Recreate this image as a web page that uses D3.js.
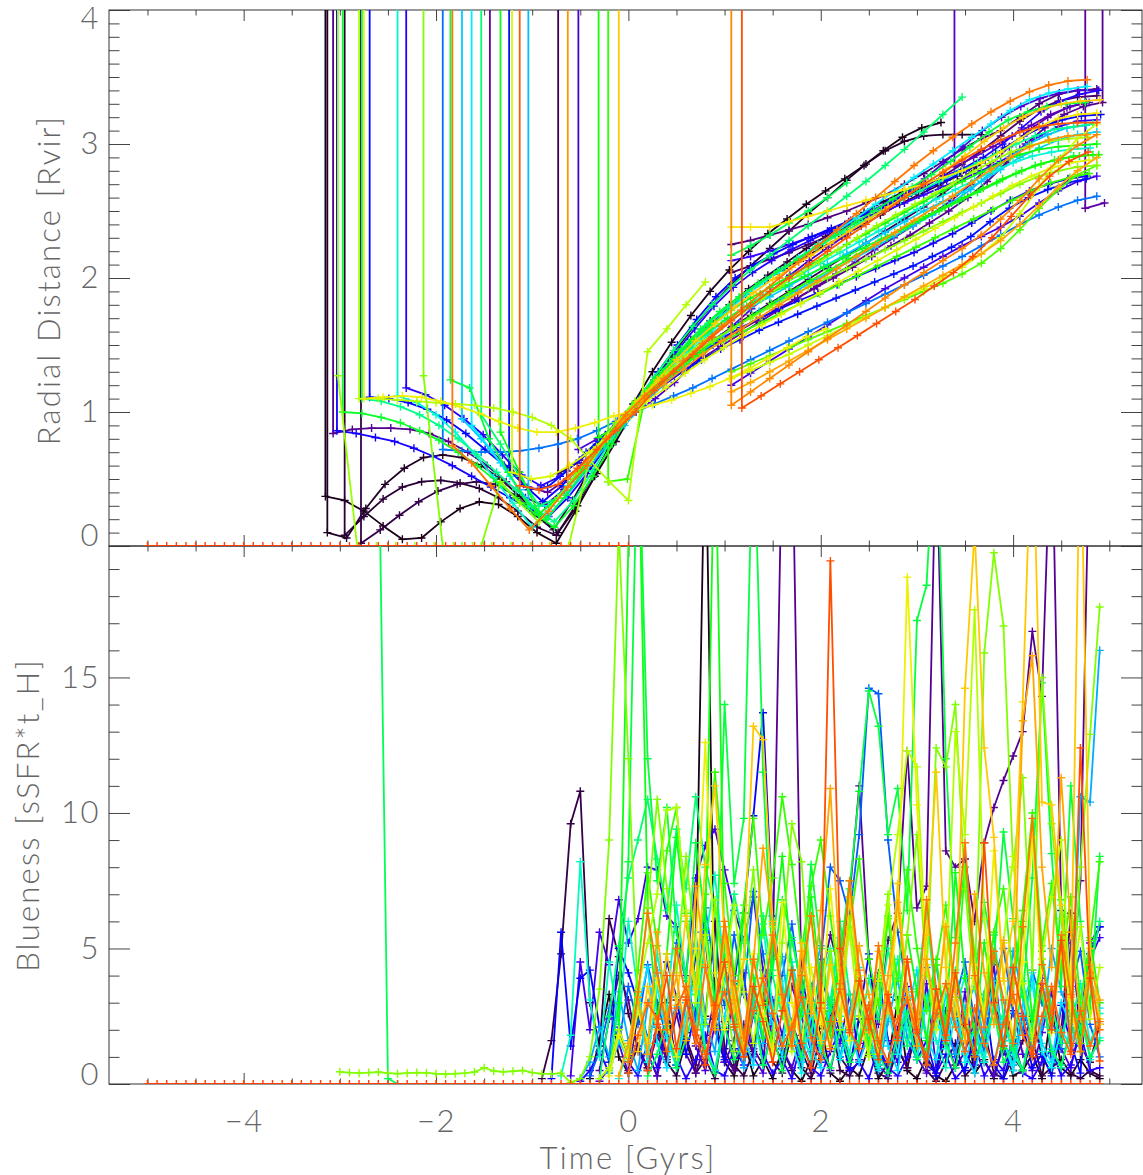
<!DOCTYPE html>
<html>
<head>
<meta charset="utf-8">
<script src="https://cdn.jsdelivr.net/npm/d3@7"></script>
<style>
  html, body { margin: 0; padding: 0; background: #fff; }
  svg text { font-family: Lato, "Open Sans", "DejaVu Sans", sans-serif; font-weight: 300; fill: #666; }
  .axes text { font-size: 31px; letter-spacing: 1.5px; }
  .axes line { stroke: #444; stroke-width: 1; }
  .title { font-size: 31px; letter-spacing: 2.2px; }
</style>
</head>
<body>
<svg id="chart" width="1143" height="1175"></svg>
<script>
// ---- tick labels ----
const TIME_TICKS = [-4, -2, 0, 2, 4];
const RAD_TICKS = [0, 1, 2, 3, 4];
const BLUE_TICKS = [0, 5, 10, 15];

// sampling steps of the two panels (Gyr)
const RAD_STEP = 0.2;
const BLUE_STEP = 0.1;

// ---- radial distance tracks, one array per galaxy ----
const rad00 = [0.37,0.34,0.26,0.15,0.05,0.06,0.18,0.28,0.33,0.31,0.22,0.10,0.02,0.26,0.52,0.82,1.06,1.30,1.52,1.72,1.90,2.06,2.20,2.33,2.44,2.55,2.65,2.74,2.84,2.95,3.05,3.12,3.16];
const rad01 = [0.10,0.06,0.28,0.46,0.58,0.66,0.68,0.66,0.60,0.50,0.37,0.22,0.10,0.30,0.54,0.78,1.03,1.24,1.44,1.63,1.80,1.95,2.09,2.22,2.35,2.48,2.60,2.73,2.85,2.95,3.02,3.06,3.07,3.07,3.07];
const rad02 = [0.08,0.22,0.35,0.44,0.48,0.49,0.47,0.43,0.36,0.26,0.14,0.08,0.30,0.55,0.79,1.02,1.20,1.38,1.54,1.68,1.80,1.92,2.02,2.12,2.22,2.31,2.40,2.49,2.57,2.64,2.70,2.74];
const rad03 = [0.02,0.12,0.23,0.33,0.41,0.46,0.48,0.46,0.38,0.24,0.12,0.34,0.60,0.82,1.01,1.18,1.34,1.49,1.63,1.76,1.88,1.98,2.07,2.15,2.23,2.31,2.39,2.47,2.55,2.62,2.69,2.76,2.84,2.93];
const rad04 = [0.54,0.62,0.76,0.90,1.05,1.18,1.30,1.42,1.53,1.63,1.72,1.81,1.90,1.99,2.08,2.17,2.26,2.35,2.44,2.53,2.63,2.74,2.86];
const rad05 = [2.04,2.09,2.14,2.19,2.25,2.31,2.38,2.45,2.52,2.60,2.68,2.76,2.85,2.95,3.06,3.17,3.26,3.32,3.35,3.36];
const rad06 = [2.25,2.28,2.32,2.36,2.40,2.45,2.50,2.56,2.62,2.70,2.78,2.87,2.96,3.04,3.10,3.20,3.30,3.37,3.40,3.41];
const rad07 = [0.84,0.87,0.88,0.88,0.87,0.84,0.78,0.70,0.60,0.48,0.36,0.30,0.42,0.58,0.76,0.95,1.10,1.22,1.33,1.43,1.52,1.60,1.68,1.76,1.84,1.92,2.00,2.08,2.16,2.24,2.32,2.41,2.50,2.60,2.72,2.86,3.00,3.12,3.22,3.28,3.31];
const rad08 = [0.72,0.58,0.44,0.40,0.50,0.64,0.80,0.97,1.10,1.20,1.30,1.40,1.49,1.58,1.67,1.76,1.85,1.94,2.03,2.12,2.21,2.30,2.39,2.48,2.58,2.70,2.84,2.98,3.10,3.20,3.27,3.31];
const rad08b = [2.52,2.56];
const rad09 = [2.83,2.90,2.98,3.06,3.14,3.22,3.28,3.31];
const rad10 = [0.72,0.80,0.90,1.00,1.10,1.22,1.36,1.50,1.64,1.77,1.90,2.02,2.13,2.23,2.33,2.43,2.53,2.63,2.74,2.86,2.98,3.10,3.20,3.28,3.34,3.38,3.40,3.40];
const rad11 = [1.20,1.29,1.38,1.47,1.56,1.65,1.74,1.83,1.92,2.00,2.08,2.16,2.24,2.31,2.38,2.46,2.56,2.65,2.72,2.76];
const rad12 = [2.13,2.16,2.20,2.25,2.30,2.35,2.40,2.45,2.50,2.56,2.62,2.68,2.74,2.80,2.87,2.96,3.06,3.13,3.17,3.18];
const rad13 = [1.18,1.13,1.05,0.95,0.83,0.68,0.53,0.45,0.52,0.64,0.78,0.93,1.08,1.26,1.44,1.62,1.79,1.93,2.04,2.13,2.21,2.28,2.35,2.42,2.49,2.56,2.63,2.70,2.76,2.82,2.90,3.00,3.12,3.24,3.32,3.37,3.40];
const rad14 = [0.86,0.84,0.81,0.78,0.73,0.67,0.60,0.52,0.44,0.36,0.28,0.22,0.36,0.54,0.74,0.95,1.12,1.24,1.36,1.46,1.55,1.63,1.70,1.77,1.83,1.89,1.95,2.01,2.07,2.13,2.19,2.26,2.33,2.41,2.50,2.58,2.65,2.70,2.74,2.76];
const rad15 = [1.11,1.10,1.07,1.02,0.94,0.84,0.72,0.60,0.46,0.33,0.45,0.60,0.76,0.93,1.10,1.30,1.50,1.69,1.86,2.00,2.10,2.18,2.25,2.31,2.37,2.43,2.49,2.55,2.61,2.67,2.73,2.80,2.88,2.97,3.06,3.13,3.18,3.21,3.22];
const rad16 = [0.60,0.42,0.44,0.56,0.70,0.83,0.97,1.10,1.20,1.30,1.39,1.47,1.54,1.61,1.67,1.73,1.79,1.85,1.91,1.97,2.03,2.09,2.16,2.23,2.31,2.42,2.52,2.60,2.66,2.71,2.74];
const rad20 = [0.72,0.71,0.70,0.70,0.71,0.73,0.76,0.80,0.86,0.93,1.00,1.06,1.12,1.18,1.25,1.32,1.39,1.46,1.53,1.60,1.67,1.74,1.81,1.88,1.95,2.02,2.09,2.16,2.24,2.32,2.40,2.47,2.53,2.58,2.61];
const rad24 = [0.30,0.22,0.38,0.56,0.74,0.90,1.06,1.20,1.33,1.45,1.56,1.66,1.75,1.83,1.91,1.99,2.07,2.15,2.23,2.31,2.39,2.47,2.56,2.66,2.78,2.90,3.00,3.07,3.12,3.14];
const rad25 = [0.95,0.80,0.62,0.42,0.24,0.36,0.52,0.70,0.88,1.05,1.20,1.34,1.47,1.59,1.69,1.78,1.86,1.94,2.02,2.10,2.18,2.26,2.34,2.42,2.50,2.57,2.64,2.72,2.81,2.90,2.97,3.03,3.07,3.09];
const rad27 = [0.90,0.72,0.52,0.30,0.30,0.45,0.62,0.80,0.98,1.15,1.30,1.45,1.59,1.72,1.84,1.95,2.05,2.15,2.25,2.35,2.45,2.55,2.65,2.75,2.85,2.95,3.05,3.15,3.25,3.33,3.38,3.41,3.43];
const rad29 = [1.12,1.07,0.98,0.85,0.69,0.51,0.32,0.14,0.30,0.48,0.66,0.83,1.00,1.16,1.31,1.45,1.57,1.68,1.78,1.87,1.95,2.03,2.11,2.19,2.27,2.35,2.43,2.51,2.59,2.66,2.73,2.80,2.86,2.91,2.94,2.96,2.97];
const rad32 = [1.10,1.08,1.04,0.98,0.90,0.80,0.68,0.55,0.42,0.28,0.18,0.34,0.56,0.80,1.02,1.20,1.37,1.52,1.66,1.78,1.89,1.99,2.08,2.17,2.26,2.34,2.42,2.50,2.58,2.65,2.72,2.79,2.86,2.93,3.00,3.06,3.11,3.13,3.15];
const rad33 = [0.98,0.76,0.52,0.30,0.36,0.54,0.72,0.89,1.06,1.26,1.46,1.64,1.80,1.94,2.06,2.17,2.28,2.39,2.50,2.61,2.72,2.84,2.96,3.09,3.22,3.35];
const rad34 = [2.17,2.24,2.32,2.41,2.50,2.60,2.71];
const rad35 = [1.24,1.18,0.80,0.55,0.32,0.20,0.38,0.57,0.76,0.94,1.12,1.30,1.47,1.62,1.75,1.86,1.96,2.05,2.14,2.23,2.32,2.41,2.50,2.59,2.68,2.77,2.87,2.98,3.09,3.18,3.24,3.28,3.30,3.31];
const rad36 = [1.00,0.99,0.96,0.92,0.86,0.79,0.70,0.60,0.48,0.36,0.24,0.14,0.30,0.52,0.76,1.00,1.18,1.34,1.48,1.60,1.70,1.79,1.87,1.94,2.01,2.08,2.15,2.22,2.29,2.36,2.43,2.50,2.57,2.64,2.71,2.78,2.84,2.88,2.91,2.92];
const rad37 = [0.85,0.55,0.24,0.36,0.54,0.72,0.89,1.07,1.24,1.40,1.54,1.66,1.76,1.85,1.93,2.01,2.09,2.17,2.25,2.33,2.41,2.49,2.57,2.65,2.72,2.79,2.86,2.92,2.96,2.98,2.99,3.00];
const rad38 = [0.81,0.90,1.06,1.18,1.30,1.42,1.53,1.63,1.72,1.81,1.90,1.98,2.06,2.14,2.22,2.30,2.38,2.46,2.53,2.60,2.67,2.74,2.80,2.85,2.89,2.91,2.92];
const rad39 = [0.48,0.50,1.16,1.26,1.36,1.45,1.53,1.60,1.67,1.74,1.81,1.88,1.95,2.02,2.09,2.16,2.23,2.30,2.37,2.44,2.51,2.58,2.65,2.71,2.75,2.78];
const rad40 = [1.30,1.36,1.42,1.48,1.54,1.60,1.66,1.72,1.78,1.84,1.90,1.96,2.03,2.11,2.22,2.36,2.52,2.66,2.77,2.84];
const rad42 = [1.27,0,0,0,0.48,0.32,0.18,0.36,0.55,0.74,0.92,1.08,1.20,1.32,1.43,1.53,1.62,1.70,1.78,1.86,1.93,2.00,2.07,2.14,2.21,2.28,2.35,2.42,2.49,2.56,2.63,2.70,2.76,2.80,2.83,2.84];
const rad43 = [1.27,0,0,0,0,0,0,0,0,0,0,0,0,0.60,0.80,0.98,1.14,1.28,1.41,1.53,1.64,1.74,1.84,1.94,2.03,2.12,2.21,2.30,2.39,2.47,2.55,2.63,2.71,2.79,2.87,2.94,2.99,3.02,3.04,3.05];
const rad44 = [1.10,1.10,1.09,1.08,1.07,1.06,1.05,1.03,1.00,0.96,0.90,0.80,0.64,0.48,0.34,1.45,1.62,1.80,1.97];
const rad45 = [1.25,1.31,1.37,1.43,1.50,1.57,1.64,1.71,1.78,1.85,1.92,2.00,2.08,2.18,2.30,2.48,2.68,2.88,3.04,3.15];
const rad46 = [0.55,0.50,0.52,0.60,0.70,0.82,0.95,1.08,1.18,1.29,1.39,1.48,1.57,1.65,1.73,1.81,1.89,1.97,2.05,2.13,2.21,2.29,2.37,2.45,2.53,2.61,2.69,2.76,2.82,2.86,2.88];
const rad47 = [1.10,1.11,1.12,1.11,1.08,1.04,0.99,0.93,0.88,0.85,0.85,0.88,0.92,0.97,1.01,1.05,1.09,1.14,1.19,1.25,1.32,1.40,1.48,1.56,1.62];
const rad48 = [2.38,2.38,2.38,2.42,2.46,2.50,2.54,2.58,2.62,2.66,2.70,2.75,2.80,2.86,2.94,3.04,3.13,3.19,3.22,3.23];
const rad50 = [0.93,1.08,1.24,1.39,1.53,1.66,1.78,1.89,1.99,2.08,2.17,2.26,2.35,2.44,2.53,2.62,2.71,2.81,2.91,3.02,3.12,3.20,3.26,3.30,3.32,3.33];
const rad52 = [1.15,1.22,1.30,1.38,1.46,1.54,1.62,1.70,1.78,1.86,1.94,2.02,2.10,2.18,2.28,2.40,2.54,2.68,2.80,2.90];
const rad53 = [0.50,0.64,0.80,0.95,1.10,1.21,1.32,1.43,1.53,1.62,1.71,1.80,1.89,1.98,2.07,2.16,2.25,2.34,2.43,2.52,2.61,2.71,2.81,2.90,2.98,3.03,3.06,3.07];
const rad54 = [1.05,1.15,1.25,1.35,1.45,1.55,1.65,1.75,1.85,1.95,2.04,2.13,2.22,2.32,2.44,2.58,2.74,2.88,2.99,3.07];
const rad55 = [0.75,0.62,0.45,0.28,0.12,0.26,0.44,0.60,0.80,0.98,1.12,1.25,1.38,1.51,1.64,1.76,1.88,2.00,2.12,2.24,2.36,2.48,2.60,2.72,2.84,2.95,3.05,3.15,3.24,3.32,3.39,3.44,3.47,3.48];
const rad57 = [0.45,0.42,0.46,0.58,0.72,0.86,1.00,1.16,1.30,1.43,1.56,1.68,1.79,1.90,2.00,2.10,2.20,2.30,2.40,2.50,2.60,2.70,2.79,2.88,2.96,3.03,3.09,3.13,3.15,3.16,3.16];
const rad58 = [1.03,1.12,1.21,1.30,1.39,1.48,1.57,1.66,1.75,1.84,1.94,2.04,2.16,2.30,2.46,2.62,2.76,2.87,2.94];

// ---- blueness series, one array per galaxy ----
const bl42 = [0.45,0.42,0.40,0.42,0.44,0.40,0.38,0.40,0.42,0.41,0.38,0.36,0.38,0.40,0.44,0.60,0.48,0.45,0.47,0.50,0.42,0.38,0.37,0.40,0.05,
  0.2,1.0,3.5,9.0,20.5,12.0,3.0,6.5,10.5,7.2,4.1,8.4,5.0,2.2,6.8,3.4,1.2,4.6,7.9,3.0,1.4,5.2,9.6,8.2,3.3,1.5,4.9,2.0,6.1,3.2,1.1,3.8,7.0,2.4,5.5,9.2,4.0,12.4,11.7,14.0,7.2,3.5,15.9,19.6,16.9,8.0,11.3,4.2,15.0,9.6,6.1,2.3,8.0,12.9,17.6];
const bl34v = [25, 0.2, 0.0];
const bl00 = [0.2,1.6,3.3,1.0,0.4,2.6,1.1,0.3,3.0,0.7,1.9,4.8,25,2.4,0.8,0.3,1.7,0.3,0.9,0.2,1.3,0.5,0.1,0.9,2.2,0.4,0.1,0.6,0.3,1.4,0.2,0.8,3.1,0.5,0.2,1.0,0.3,0.1,0.7,2.4,0.4,0.9,0.2,1.6,0.3,0.5,1.1,0.2,2.8,0.6,0.3,0.9,0.4,0.2];
const bl03 = [0.2,1.6,4.8,9.6,10.8,3.0,1.4,6.1,4.7,2.6,1.3,0.5,2.1,0.8,0.3,1.6,0.4,0.9,0.2,2.3,0.7,0.3,1.2,3.5,0.8,0.4,1.9,0.6,0.2,1.1,2.7,0.5,0.3,0.9,1.8,0.4,0.2,1.3,0.6,2.4,0.5,0.1,0.8,1.5,0.3,0.7,2.0,0.4,0.2,1.0,0.5,1.7,0.3,0.6,0.9,0.4,0.2,0.5,0.3];
const bl04 = [0.5,1.4,0.6,2.2,1.0,3.1,1.7,0.7,2.5,6.0,1.3,0.5,2.0,1.1,3.4,1.6,0.8,2.3,1.2,0.4,1.8,2.9,1.0,0.5,2.4,1.5,0.9,3.2,1.3,0.6,2.1,1.0,0.4,1.7,2.8,1.1,0.6,2.0,3.5,1.2,0.7,1.6,2.5,1.0,0.4,1.9,6.3,1.4,0.8,2.2];
const bl07 = [0.5,2.4,4.0,3.1,1.2,0.6,1.8,0.9,2.6,1.1,0.4,1.5,3.2,1.0,0.5,2.2,1.3,0.7,4.6,24,25,3.5,2.0,3.8,5.5,4.1,6.9,11.0,4.6,2.2,5.3,6.3,12.3,6.5,7.3,24,8.6,8.0,8.3,6.0,8.9,10.2,11.2,12.1,13.0,16.7,14.3,25,6.4,3.2,7.5,25,20.5];
const bl10 = [0.1,0.6,1.5,0.4,2.8,1.1,0.3,1.9,0.7,3.2,1.4,0.5,2.2,0.8,1.6,4.1,1.0,0.4,2.5,1.3,0.6,1.8,3.6,1.2,0.5,2.1,0.9,1.5,2.9,0.7,0.3,1.6,2.4,1.0,0.4,3.0,1.7,0.6,1.2,2.3,0.8,0.3,1.4,2.7,1.1,0.5,1.9,3.4,1.3,0.6,2.2,5.2,5.8];
const bl11 = [0.3,4.5,2.0,5.6,4.4,6.8,5.2,6.1,8.0,7.9,6.2,5.8,4.0,7.6,8.8,9.4,7.9,6.4,5.3,6.9,4.2,3.1,1.8,3.6,2.5,1.2,4.0,2.8,1.5,3.3,0.9,2.2,4.1,1.6,0.8,2.9,1.4,3.7,0.6,2.0,1.1,3.4,0.7,1.9,4.4,1.2,0.5,2.6,1.8,3.9,0.8,1.5,5.2,2.3,4.6,5.4];
const bl13 = [0.1,0.5,1.2,0.4,2.1,0.8,0.3,1.5,0.6,2.4,1.0,0.2,0.9,1.8,0.5,0.3,1.3,0.7,2.6,1.1,0.4,0.9,0.2,1.6,0.6,0.3,1.2,2.0,0.5,0.8,0.2,1.4,0.6,0.3,1.0,2.2,0.7,0.4,1.1,0.2,0.6,1.5,0.3,0.9,0.5,1.7,0.4,0.2,0.8,1.3,0.3,0.7,1.9,0.5,0.6];
const bl15 = [0.2,5.6,1.4,3.9,4.2,2.1,0.8,5.0,4.1,3.0,1.7,2.6,4.5,3.2,1.1,2.8,5.3,2.0,0.9,3.7,6.3,9.9,13.7,6.2,3.4,1.5,4.0,2.3,0.8,3.1,1.9,0.6,2.5,4.8,1.3,0.4,2.0,3.6,0.9,1.6,0.3,2.7,1.0,0.5,1.8,3.3,0.7,0.2,1.4,2.2,0.6,1.1,0.3,2.9,1.5,0.4,4.8,5.8];
const bl19 = [0.3,1.2,2.8,1.5,3.6,2.2,4.4,3.0,1.7,5.2,3.8,2.4,6.5,4.1,2.9,5.5,3.3,7.1,4.8,2.6,4.0,5.9,3.2,1.8,4.6,8.0,7.5,6.2,9.2,14.6,14.4,9.0,5.6,3.4,2.1,4.3,2.7,1.5,3.1,4.5,2.3,1.2,3.8,5.0,2.6,1.9,4.2,3.0,2.4,1.3,3.6,4.9,2.2,1.0];
const bl23 = [0.2,0.8,2.1,1.0,3.4,1.6,0.5,2.9,4.2,1.8,0.7,3.0,5.6,2.4,1.2,4.1,2.0,0.6,3.3,1.5,2.6,4.7,1.9,0.8,3.5,5.1,2.2,1.0,2.7,4.0,1.4,0.5,2.3,3.9,1.7,0.9,3.1,4.4,2.0,1.1,2.8,3.6,1.5,0.7,2.4,4.9,3.2,1.3,2.1,5.0,3.4,2.5,10.6,10.4,16.0];
const bl26 = [0.4,1.6,0.9,2.8,4.3,1.5,0.6,3.2,2.0,5.1,1.2,0.5,2.5,4.0,1.8,0.7,3.6,2.2,1.0,4.5,2.9,1.3,0.6,3.0,5.4,2.1,0.8,1.9,3.7,1.4,0.5,2.6,4.2,1.7,0.9,3.3,2.4,1.1,0.4,2.0,3.8,1.6,0.7,2.9,4.1,1.5,0.8,3.0,2.2,1.2,3.9,2.8];
const bl28 = [0.2,1.4,2.9,0.8,3.6,1.7,0.6,2.5,4.0,1.3,0.5,2.2,3.4,1.0,2.7,0.7,1.9,3.8,1.5,0.4,2.6,1.2,3.1,0.9,2.0,4.3,1.6,0.6,2.8,1.1,3.5,1.8,0.7,2.4,1.3,3.2,0.8,2.1,1.0,2.9,1.6,0.5,2.3,3.7,1.2,0.6,2.0,1.4,3.0,0.9,1.7];
const bl30 = [0.3,1.8,8.2,3.1,1.0,4.5,2.2,6.0,3.4,1.5,4.8,2.7,6.6,3.9,2.0,5.2,7.7,4.1,2.3,1.2,3.5,5.9,2.8,1.4,4.2,2.0,0.9,3.6,5.0,2.5,1.1,3.8,1.9,0.7,2.9,4.6,2.1,1.0,3.2,1.6,0.6,2.7,4.0,1.8,0.8,3.0,2.3,1.1,0.5,2.4,3.5,1.3,0.6,2.2,3.7,1.5,2.6];
const bl33 = [0.2,2.5,5.1,7.6,9.0,10.5,8.3,6.4,9.4,7.2,10.6,8.0,6.5,4.3,7.0,5.2,3.1,6.2,4.0,2.5,5.4,3.6,1.8,4.4,2.9,6.0,3.3,1.6,3.9,2.4,5.0,2.8,1.4,3.5,6.4,3.0,1.7,4.2,2.6,1.1,3.3,5.5,2.5,1.3,3.8,2.2,4.6,2.9,1.5,3.4,2.0,4.2,6.0];
const bl34 = [0.3,1.1,2.4,0.6,1.7,3.0,1.2,0.4,2.1,0.9,1.5,2.8,0.7,1.9,0.5,2.3,1.0,3.4,1.4,0.6,2.0,0.8,1.6,2.9,1.1,0.4,1.8,2.6,0.9,1.3,3.1,1.5,0.6,2.2,1.0,1.7,2.7,0.8,1.4,0.5,2.0,3.3,1.2,0.7,1.9,2.5,1.0,1.6];
const bl35 = [0.5,3.0,8.2,25,12.0,7.5,10.2,5.6,3.8,8.9,6.0,2.9,14.0,7.4,9.8,25,11.5,4.2,6.8,5.3,3.6,8.1,5.0,2.7,4.8,7.2,10.8,14.5,13.2,9.2,10.9,6.4,17.1,18.4,25,12.0,5.4,8.0,3.9,6.7,4.5,9.3,6.1,3.2,7.6,14.8,8.5,3.6,11.0,6.0,2.8,8.4];
const bl37 = [2.0,20.0,25,6.5,2.4,4.8,9.1,6.0,3.3,5.7,25,4.4,2.1,6.3,3.9,1.7,5.0,8.4,4.2,2.5,6.9,3.6,1.8,4.7,7.5,3.1,1.4,4.0,6.2,2.8,5.5,3.4,1.6,4.6,2.2,7.8,3.9,1.9,5.2,2.9,1.3,3.7,6.0,2.4,4.9,2.0,6.8,3.5,1.5,5.4,3.0];
const bl39 = [1.0,4.2,7.8,5.1,8.6,10.2,6.3,3.7,7.0,11.5,7.4,4.0,6.6,9.8,5.5,7.6,10.6,8.1,4.9,7.3,9.0,6.2,3.5,5.8,8.3,4.6,2.9,6.1,3.8,7.9,5.0,2.7,4.4,6.6,3.2,8.0,4.8,2.5,5.6,7.2,3.9,6.4,10.0,5.1,7.4,4.3,6.9,3.0,5.3,8.2];
const bl44 = [0.2,0.6,2.0,1.1,3.5,5.2,7.0,10.1,10.2,6.4,3.0,5.5,2.1,4.2,6.6,3.4,1.5,3.9,5.8,2.7,1.2,4.1,6.2,3.0,1.4,3.3,5.6,2.5,1.0,3.8,6.6,9.2,12.3,11.7,4.4,2.0,3.6,13.0,9.2,17.5,6.1,3.0,5.2,8.4,3.7,1.6,4.6,6.9,9.0,3.1,5.8,2.4,4.3];
const bl47 = [0.3,1.8,0.9,2.7,1.5,3.9,2.2,1.0,3.4,5.0,12.6,4.1,2.0,3.6,1.4,4.8,2.5,1.1,6.7,3.0,1.5,4.3,2.2,7.2,3.5,1.6,4.0,2.4,1.1,3.3,6.1,18.7,10.3,4.6,2.7,5.9,3.1,1.6,4.4,2.5,8.6,3.9,1.7,4.5,9.1,3.6,1.9,5.0,2.8,1.2,3.9,2.2];
const bl50 = [1.2,3.6,2.0,4.8,2.9,6.2,3.5,8.1,11.0,5.4,2.7,4.6,13.2,12.7,6.0,3.3,2.1,5.2,3.0,1.6,4.4,2.3,6.9,3.7,1.9,4.9,2.6,7.4,3.4,2.0,5.5,11.5,4.3,2.5,14.6,20.4,12.4,9.1,3.8,6.0,14.1,25,10.4,10.3,6.6,3.2,25,5.0,2.4];
const bl52 = [0.3,1.5,3.2,1.1,5.6,2.4,4.0,1.6,7.3,4.4,2.0,5.8,3.1,1.2,4.5,8.7,5.9,3.0,1.4,4.9,2.6,6.4,10.9,4.2,2.1,5.1,3.3,1.5,4.0,6.7,3.2,1.4,4.6,2.5,5.8,3.4,1.6,7.0,4.1,2.2,5.3,3.0,13.4,15.8,8.0,4.3,11.3,5.6,2.4,4.4,3.1];
const bl55 = [0.8,3.4,6.3,4.1,2.0,5.0,3.2,1.5,4.3,2.6,6.0,3.8,1.7,4.6,2.9,5.5,3.3,1.4,4.0,6.2,2.8,1.3,3.7,7.5,4.2,2.0,5.1,3.0,1.6,4.5,2.4,6.8,3.5,1.8,5.2,8.9,4.0,2.1,4.9,3.1,1.5,5.8,9.8,4.4,2.6,5.5,3.3,1.2,4.1,2.0];
const bl56 = [0.4,1.8,3.0,2.4,1.2,2.8,3.6,2.0,1.1,2.5,3.4,2.2,1.0,2.7,3.9,2.6,1.4,2.1,3.2,1.7,0.9,2.3,3.5,2.0,1.3,2.9,1.6,0.8,2.4,3.1,1.9,1.0,2.6,3.7,2.1,1.2,2.8,1.5,0.7,2.2,3.3,1.8,1.0,2.5,3.6,1.9,1.1,2.7,1.4,2.3];
const bl58 = [0.5,2.2,4.0,1.3,3.1,1.8,0.7,2.9,4.5,2.1,1.0,3.6,2.3,0.8,2.7,4.2,1.5,0.6,3.0,19.3,5.0,1.9,3.8,2.4,0.9,3.3,1.7,4.6,2.0,0.7,3.5,1.6,4.1,2.2,1.0,8.9,3.0,1.4,4.3,2.5,1.1,3.7,2.0,5.3,1.2,12.4,3.9,0.85];

// times of the zero-valued (pre-infall) samples of the reference galaxy
const ZERO_TIMES = [-5.0,-4.9,-4.8,-4.7,-4.6,-4.5,-4.4,-4.3,-4.2,-4.1,-4.0,-3.9,-3.8,-3.7,-3.6,-3.5,-3.4,-3.3,-3.2,-3.1,
  -3.0,-2.9,-2.8,-2.7,-2.6,-2.5,-2.4,-2.3,-2.2,-2.1,-2.0,-1.9,-1.8,-1.7,-1.6,-1.5,-1.4,-1.3,-1.2,-1.1,
  -1.0,-0.9,-0.8,-0.7,-0.6,-0.5,-0.4,-0.3,-0.2,-0.1,0.0,0.1,0.2,0.3,0.4,0.5,0.6,0.7,0.8,0.9,
  1.0,1.1,1.2,1.3,1.4,1.5,1.6,1.7,1.8,1.9,2.0,2.1,2.2,2.3,2.4,2.5,2.6,2.7,2.8,2.9,
  3.0,3.1,3.2,3.3,3.4,3.5,3.6,3.7,3.8,3.9,4.0,4.1,4.2,4.3,4.4,4.5,4.6,4.7,4.8,4.9];
const ZERO_GAL = 59;

// gal = galaxy index (sets the colour), start = time of first sample
const radialTracks = [
  {gal: 0, start: -3.15, values: rad00, entry: true},
  {gal: 1, start: -3.13, values: rad01, entry: true},
  {gal: 2, start: -2.95, values: rad02, entry: true},
  {gal: 3, start: -2.78, values: rad03, entry: true},
  {gal: 4, start: -0.73, values: rad04, entry: true},
  {gal: 5, start: 1.07, values: rad05},
  {gal: 6, start: 1.07, values: rad06},
  {gal: 7, start: -3.07, values: rad07, entry: true, exit: true},
  {gal: 8, start: -1.44, values: rad08, entry: true},
  {gal: 8, start: 4.75, values: rad08b, entry: true},
  {gal: 9, start: 3.39, values: rad09, entry: true},
  {gal: 10, start: -0.52, values: rad10, entry: true},
  {gal: 11, start: 1.07, values: rad11},
  {gal: 12, start: 1.07, values: rad12},
  {gal: 13, start: -2.31, values: rad13, entry: true},
  {gal: 14, start: -3.03, values: rad14, entry: true},
  {gal: 15, start: -2.69, values: rad15, entry: true},
  {gal: 16, start: -1.24, values: rad16, entry: true},
  {gal: 20, start: -1.93, values: rad20, entry: true},
  {gal: 24, start: -1.04, values: rad24, entry: true},
  {gal: 25, start: -1.73, values: rad25, entry: true},
  {gal: 27, start: -1.63, values: rad27, entry: true},
  {gal: 29, start: -2.40, values: rad29, entry: true},
  {gal: 32, start: -2.77, values: rad32, entry: true},
  {gal: 33, start: -1.53, values: rad33, entry: true},
  {gal: 34, start: 1.07, values: rad34},
  {gal: 35, start: -1.85, values: rad35, entry: true},
  {gal: 36, start: -2.97, values: rad36, entry: true},
  {gal: 37, start: -1.33, values: rad37, entry: true},
  {gal: 38, start: -0.31, values: rad38, entry: true},
  {gal: 39, start: -0.21, values: rad39, entry: true},
  {gal: 40, start: 1.07, values: rad40},
  {gal: 42, start: -2.13, values: rad42, entry: true},
  {gal: 43, start: -3.02, values: rad43, entry: true},
  {gal: 44, start: -2.80, values: rad44, entry: true},
  {gal: 45, start: 1.07, values: rad45},
  {gal: 46, start: -1.21, values: rad46, entry: true},
  {gal: 47, start: -2.75, values: rad47, entry: true},
  {gal: 48, start: 1.07, values: rad48},
  {gal: 50, start: -0.10, values: rad50, entry: true},
  {gal: 52, start: 1.07, values: rad52},
  {gal: 53, start: -0.63, values: rad53, entry: true},
  {gal: 54, start: 1.07, values: rad54, entry: true},
  {gal: 55, start: -1.83, values: rad55, entry: true},
  {gal: 57, start: -1.13, values: rad57, entry: true},
  {gal: 58, start: 1.18, values: rad58, entry: true}
];

const blueSeries = [
  {gal: 0, start: -0.4, values: bl00},
  {gal: 3, start: -0.9, values: bl03},
  {gal: 4, start: 0.0, values: bl04},
  {gal: 7, start: -0.3, values: bl07},
  {gal: 10, start: -0.3, values: bl10},
  {gal: 11, start: -0.6, values: bl11},
  {gal: 13, start: -0.5, values: bl13},
  {gal: 15, start: -0.8, values: bl15},
  {gal: 19, start: -0.4, values: bl19},
  {gal: 23, start: -0.5, values: bl23},
  {gal: 26, start: -0.2, values: bl26},
  {gal: 28, start: -0.1, values: bl28},
  {gal: 30, start: -0.7, values: bl30},
  {gal: 33, start: -0.3, values: bl33},
  {gal: 34, start: -2.6, values: bl34v},
  {gal: 34, start: 0.2, values: bl34},
  {gal: 35, start: -0.2, values: bl35},
  {gal: 37, start: -0.1, values: bl37},
  {gal: 39, start: 0.0, values: bl39},
  {gal: 42, start: -3.0, values: bl42},
  {gal: 44, start: -0.3, values: bl44},
  {gal: 47, start: -0.2, values: bl47},
  {gal: 50, start: 0.1, values: bl50},
  {gal: 52, start: -0.1, values: bl52},
  {gal: 55, start: 0.0, values: bl55},
  {gal: 56, start: 0.0, values: bl56},
  {gal: 58, start: 0.2, values: bl58}
];

// ---- layout ----
const L = 109, R = 1142, T1 = 10, B1 = 546, T2 = 546, B2 = 1084;
const OFF_TOP = 1e3; // sentinel for the samples outside the box

const svg = d3.select('#chart');

const x = d3.scaleLinear().domain([-5.4, 5.34]).range([L, R]);
const yR = d3.scaleLinear().domain([0, 4]).range([B1, T1]);
const yB = d3.scaleLinear().domain([0, 19.85]).range([B2, T2]);

// IDL rainbow-like colour table
const RAMP_POS = [0, 0.07, 0.14, 0.2, 0.26, 0.33, 0.4, 0.46, 0.52, 0.58, 0.64, 0.7, 0.76, 0.8, 0.84, 0.88, 0.93, 1];
const RAMP_COL = ['#1a0018','#3c0058','#6000a8','#3800ff','#0000ff','#0068ff','#00b8ff','#00f0ff','#00ffb0',
                  '#00ff50','#10ff00','#70ff00','#c8ff00','#f0f000','#ffd000','#ffa800','#ff7800','#ff4000'];
const color = d3.scaleLinear().domain(RAMP_POS.map(p => p * 59)).range(RAMP_COL);

function drawAxes(yScale, majors, minors, top, bottom, showX, nudge) {
  const g = svg.append('g').attr('class', 'axes');
  const xMinor = d3.range(-5, 5.01, 0.5).filter(v => !TIME_TICKS.includes(v));

  [[d3.axisBottom, bottom, true], [d3.axisTop, top, false]].forEach(([axis, pos, labelled]) => {
    g.append('g').attr('transform', `translate(0,${pos})`)
      .call(axis(x).tickValues(xMinor).tickSize(-5.5).tickFormat(''));
    g.append('g').attr('transform', `translate(0,${pos})`)
      .call(axis(x).tickValues(TIME_TICKS).tickSize(-11).tickPadding(26)
        .tickFormat(showX && labelled ? d3.format('d') : ''));
  });

  g.append('g').attr('transform', `translate(${L},0)`)
    .call(d3.axisLeft(yScale).tickValues(minors).tickSize(-10.5).tickFormat(''));
  const left = g.append('g').attr('transform', `translate(${L},0)`)
    .call(d3.axisLeft(yScale).tickValues(majors).tickSize(-21).tickPadding(9).tickFormat(d3.format('d')));
  left.selectAll('text').attr('transform', d => `translate(0,${nudge[d] || 0})`);

  g.append('g').attr('transform', `translate(${R},0)`)
    .call(d3.axisRight(yScale).tickValues(minors).tickSize(-10.5).tickFormat(''));
  g.append('g').attr('transform', `translate(${R},0)`)
    .call(d3.axisRight(yScale).tickValues(majors).tickSize(-21).tickFormat(''));

  g.selectAll('.domain').remove();
  g.append('rect').attr('x', L).attr('y', top).attr('width', R - L).attr('height', bottom - top)
    .attr('fill', 'none').attr('stroke', '#333').attr('stroke-width', 1);
}

drawAxes(yR, RAD_TICKS, d3.range(0, 4.001, 0.1).filter(v => Math.abs(v - Math.round(v)) > 1e-6),
         T1, B1, false, {0: -10, 4: 9});
drawAxes(yB, BLUE_TICKS, d3.range(0, 19.5, 1).filter(v => v % 5 !== 0),
         T2, B2, true, {0: -9});

// clip regions
const defs = svg.append('defs');
defs.append('clipPath').attr('id', 'clipTop').append('rect')
  .attr('x', L).attr('y', T1).attr('width', R - L).attr('height', B1 - T1);
defs.append('clipPath').attr('id', 'clipBot').append('rect')
  .attr('x', L).attr('y', T2).attr('width', R - L).attr('height', B2 - T2);

function plusMarks(pts, yScale) {
  return pts.map(p => {
    const px = x(p.t), py = yScale(Math.min(p.v, OFF_TOP));
    return `M${px - 4},${py}h8M${px},${py - 4}v8`;
  }).join('');
}

function drawSeries(layer, pts, yScale, col, extraStart, extraEnd) {
  const path = [];
  if (extraStart) path.push({t: pts[0].t, v: OFF_TOP});
  path.push(...pts);
  if (extraEnd) path.push({t: pts[pts.length - 1].t, v: OFF_TOP});
  const line = d3.line().x(d => x(d.t)).y(d => yScale(Math.min(d.v, 40)));
  layer.append('path').attr('d', line(path))
    .attr('fill', 'none').attr('stroke', col).attr('stroke-width', 1.8).attr('stroke-linejoin', 'round');
  layer.append('path').attr('d', plusMarks(pts, yScale))
    .attr('fill', 'none').attr('stroke', col).attr('stroke-width', 1.4);
}

// ---- top panel: radial distance ----
const topLayer = svg.append('g').attr('clip-path', 'url(#clipTop)');
radialTracks.slice().sort((a, b) => a.gal - b.gal).forEach(tr => {
  const pts = tr.values.map((v, i) => ({t: tr.start + i * RAD_STEP, v}));
  drawSeries(topLayer, pts, yR, color(tr.gal), tr.entry, tr.exit);
});
const zeroTop = ZERO_TIMES.filter(t => t <= 0).map(t => ({t, v: 0}));
drawSeries(topLayer, zeroTop, yR, color(ZERO_GAL), false, false);

// ---- bottom panel: blueness ----
const botLayer = svg.append('g').attr('clip-path', 'url(#clipBot)');
blueSeries.slice().sort((a, b) => a.gal - b.gal).forEach(s => {
  const pts = s.values.map((v, i) => ({t: s.start + i * BLUE_STEP, v}));
  drawSeries(botLayer, pts, yB, color(s.gal), false, false);
});
const zeroBot = ZERO_TIMES.map(t => ({t, v: 0}));
drawSeries(botLayer, zeroBot, yB, color(ZERO_GAL), false, false);

// ---- axis titles ----
svg.append('text').attr('class', 'title')
  .attr('transform', 'translate(48,280) rotate(-90)')
  .attr('text-anchor', 'middle').attr('dominant-baseline', 'central')
  .text('Radial Distance [Rvir]');
svg.append('text').attr('class', 'title')
  .attr('transform', 'translate(27,815) rotate(-90)')
  .attr('text-anchor', 'middle').attr('dominant-baseline', 'central')
  .text('Blueness [sSFR*t_H]');
svg.append('text').attr('class', 'title')
  .attr('x', 628).attr('y', 1169).attr('text-anchor', 'middle')
  .text('Time [Gyrs]');
</script>
</body>
</html>
